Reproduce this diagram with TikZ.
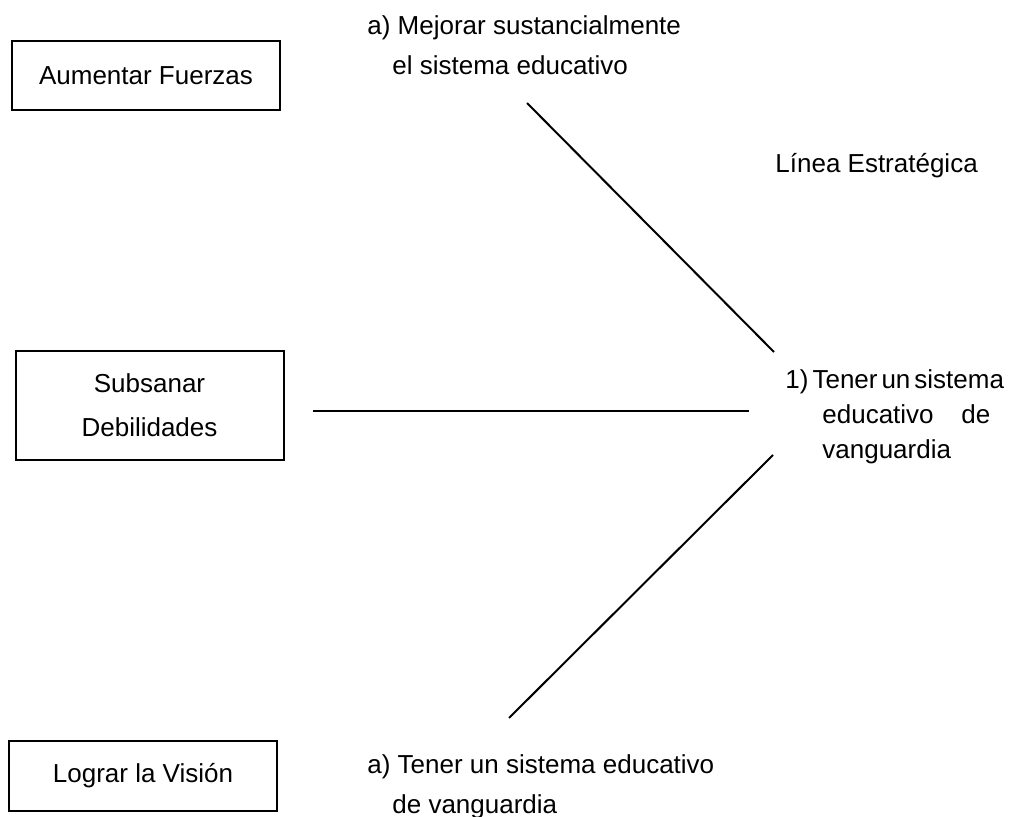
\documentclass[tikz,border=0pt]{standalone}
\usepackage{fontspec}
\setmainfont{Liberation Sans}
\usetikzlibrary{positioning}

\begin{document}
\begin{tikzpicture}[x=0.5pt, y=-0.5pt,
    every node/.style={font=\fontsize{13}{20}\selectfont, inner sep=0pt}]

    \tikzstyle{goalbox}=[rectangle, draw, line width=1pt, minimum width=134pt, align=center]
    \tikzstyle{notetext}=[anchor=north west, align=left]
    \tikzstyle{link}=[line width=1pt]

    \useasboundingbox (0,0) rectangle (1010,817);

    % left column
    \node[goalbox, minimum height=34.5pt] (fuerzas) at (146,75.5) {Aumentar Fuerzas};
    \node[goalbox, minimum height=54.5pt, font=\fontsize{13}{22}\selectfont] (debil) at (149.5,405.5) {Subsanar\\Debilidades};
    \node[goalbox, minimum height=35pt] (vision) at (143,776) {Lograr la Visión};

    % texts
    \node[notetext] (mejorar) at (367,15) {a) Mejorar sustancialmente\\\hspace*{12.5pt}el sistema educativo};
    \node[anchor=base west] (linea) at (775,173) {Línea Estratégica};
    \node[notetext, font=\fontsize{13}{17.5}\selectfont] (tener) at (785,369)
        {1)\hspace{2pt}Tener\hspace{2pt}un\hspace{2pt}sistema\\
         \hspace*{18.5pt}\makebox[84pt][l]{educativo\hfill de}\\
         \hspace*{18.5pt}vanguardia};
    \node[notetext] (tenerb) at (367,754) {a) Tener un sistema educativo\\\hspace*{12.5pt}de vanguardia};

    \coordinate (c1) at (527,103);
    \coordinate (c2) at (774,352);
    \coordinate (c3) at (313,411);
    \coordinate (c4) at (749,411);
    \coordinate (c5) at (773,455);
    \coordinate (c6) at (509,718);

    \draw[link] (c1)--(c2);
    \draw[link] (c3)--(c4);
    \draw[link] (c5)--(c6);

    \end{tikzpicture}
\end{document}
